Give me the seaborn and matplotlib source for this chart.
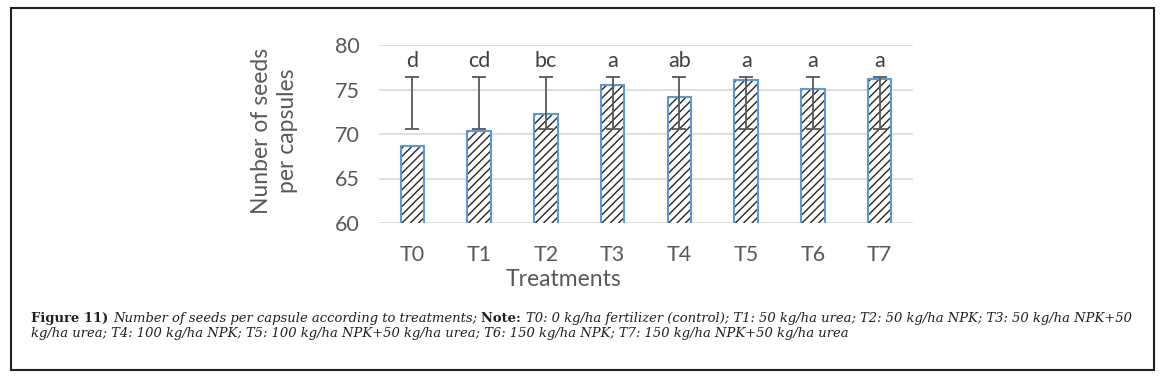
import numpy as np
import matplotlib
matplotlib.use('Agg')
import matplotlib.pyplot as plt
import seaborn as sns
from matplotlib.patches import Rectangle

treatments = ['T0', 'T1', 'T2', 'T3', 'T4', 'T5', 'T6', 'T7']
seeds = [68.6, 70.3, 72.3, 75.5, 74.2, 76.1, 75.1, 76.2]
err_low = [70.6, 70.6, 70.6, 70.6, 70.6, 70.6, 70.6, 70.6]
err_high = [76.4, 76.4, 76.4, 76.4, 76.4, 76.4, 76.4, 76.4]
letters = ['d', 'cd', 'bc', 'a', 'ab', 'a', 'a', 'a']
yticks = [60, 65, 70, 75, 80]

sns.set_theme(style='white')
plt.rcParams['font.family'] = ['Lato', 'DejaVu Sans']
plt.rcParams['hatch.linewidth'] = 1.0
grey = '#595959'

fig = plt.figure(figsize=(11.64, 3.79), dpi=100)
ax = fig.add_axes([379/1164, 1-223/379, 534/1164, 178/379])

sns.barplot(x=treatments, y=seeds, color='white', width=0.35, edgecolor='#262626',
            linewidth=0, hatch='////', ax=ax, zorder=2)
ax.bar(range(len(seeds)), seeds, width=0.35, fill=False, edgecolor='#5B9BD5',
       linewidth=1.5, zorder=3)

lo = np.array(err_low)
hi = np.array(err_high)
ax.errorbar(range(len(seeds)), (lo+hi)/2, yerr=(hi-lo)/2, fmt='none', ecolor=grey,
            elinewidth=1.3, capsize=5, capthick=1.3, zorder=4)

for i, l in enumerate(letters):
    ax.text(i, hi[i]+0.7, l, ha='center', va='bottom', fontsize=15.5, color='#404040')

ax.set_ylim(60, 80)
ax.set_xlim(-0.5, len(seeds)-0.5)
ax.set_yticks(yticks)
ax.yaxis.grid(True, color='#D9D9D9', linewidth=1.2)
ax.set_axisbelow(True)
sns.despine(ax=ax, left=True, bottom=True)
ax.tick_params(axis='both', length=0, labelsize=15.5, labelcolor=grey)
ax.tick_params(axis='x', pad=16)
ax.tick_params(axis='y', pad=14)

ax.set_ylabel('Nunber of seeds\nper capsules', fontsize=16.5, color=grey, linespacing=1.3)
ax.yaxis.set_label_coords(-0.195, 0.52)
ax.set_xlabel('Treatments', fontsize=16.5, color=grey)
ax.xaxis.set_label_coords(0.345, -0.32)
ax.xaxis.label.set_va('center')
ax.yaxis.label.set_va('center')

# outer frame
fig.patches.append(Rectangle((11/1164, 1-370/379), 1143/1164, 362/379,
                             transform=fig.transFigure, fill=False,
                             edgecolor='#231f20', linewidth=1.5))

# caption with mixed styles
line1 = [('Figure 11) ', 'bold', 'normal'),
         ('Number of seeds per capsule according to treatments; ', 'normal', 'italic'),
         ('Note: ', 'bold', 'normal'),
         ('T0: 0 kg/ha fertilizer (control); T1: 50 kg/ha urea; T2: 50 kg/ha NPK; T3: 50 kg/ha NPK+50',
          'normal', 'italic')]
line2 = [('kg/ha urea; T4: 100 kg/ha NPK; T5: 100 kg/ha NPK+50 kg/ha urea; T6: 150 kg/ha NPK; T7: 150 kg/ha NPK+50 kg/ha urea',
          'normal', 'italic')]

renderer = fig.canvas.get_renderer()
def caption_line(pieces, x0, y0, size):
    x = x0
    made = []
    for txt, w, st in pieces:
        t = fig.text(x, y0, txt, fontsize=size, fontweight=w, fontstyle=st,
                     family='DejaVu Serif', color='#231f20', va='baseline')
        bb = t.get_window_extent(renderer=renderer)
        x += bb.width / fig.bbox.width
        made.append(t)
    return made, x

x0 = 31/1164
made, xend = caption_line(line1, x0, 1-322/379, 9.5)
size = 9.5 * (1138/1164 - x0) / (xend - x0)
for t in made:
    t.remove()
caption_line(line1, x0, 1-322/379, size)
caption_line(line2, x0, 1-337/379, size)

fig.savefig('out.png', dpi=100)
